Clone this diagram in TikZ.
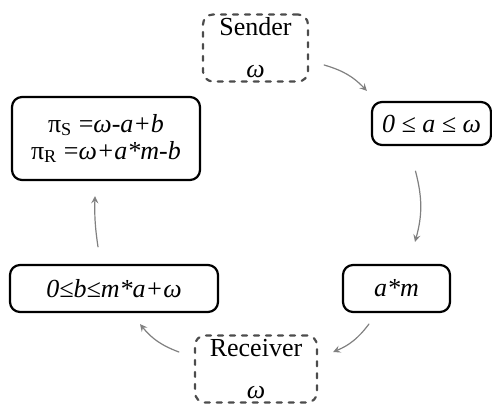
\documentclass[tikz,border=0pt]{standalone}
\usepackage{fontspec}
\setmainfont{Liberation Serif}
\begin{document}
\begin{tikzpicture}[x=0.5pt,y=0.5pt,font=\fontsize{13}{16}\selectfont,line join=round,line cap=round,>=stealth,
  box/.style={draw,rounded corners=5pt,line width=1.1pt,inner sep=0pt,align=center},
  agent/.style={box,draw=black!70,dash pattern=on 2.5pt off 3.5pt,minimum width=#1,minimum height=33.5pt},
  flow/.style={->,draw=gray,line width=0.6pt,bend left=#1},
  flow/.default=15]
\useasboundingbox (0,0) rectangle (492,403);
% players
\node[agent=52.5pt] (sender) at (255.5,355) {Sender\\[5pt]\itshape ω};
\node[agent=61pt] (recv) at (256,34) {Receiver\\[5pt]\itshape ω};
% actions and payoffs
\node[box,minimum width=59.5pt,minimum height=21.5pt] (lim) at (431.5,279.5) {\itshape 0 ≤ a ≤ ω};
\node[box,minimum width=53.5pt,minimum height=23.5pt] (am) at (396.5,114.5) {\itshape a*m};
\node[box,minimum width=104pt,minimum height=23.5pt] (bnd) at (114,114.5) {\itshape 0≤b≤m*a+ω};
\node[box,minimum width=94pt,minimum height=41.5pt] (pay) at (106,264.5)
  {π\textsubscript{S} ={\itshape ω-a+b}\\[-2.5pt]π\textsubscript{R} ={\itshape ω+a*m-b}};
% cycle
\draw[flow] ([xshift=7.5pt,yshift=-8.5pt]sender.east) to ([xshift=-2pt,yshift=5pt]lim.north west);
\draw[flow] ([xshift=-8pt,yshift=-12.5pt]lim.south) to ([xshift=9.25pt,yshift=11pt]am.north);
\draw[flow] ([xshift=13.5pt,yshift=-5.5pt]am.south west) to ([xshift=7.5pt,yshift=8.5pt]recv.east);
\draw[flow] ([xshift=-7.5pt,yshift=8.5pt]recv.west) to ([xshift=13pt,yshift=-5.5pt]bnd.south);
\draw[flow=5] ([xshift=-8pt,yshift=8.5pt]bnd.north) to ([xshift=-5.5pt,yshift=-7.5pt]pay.south);
\end{tikzpicture}
\end{document}
